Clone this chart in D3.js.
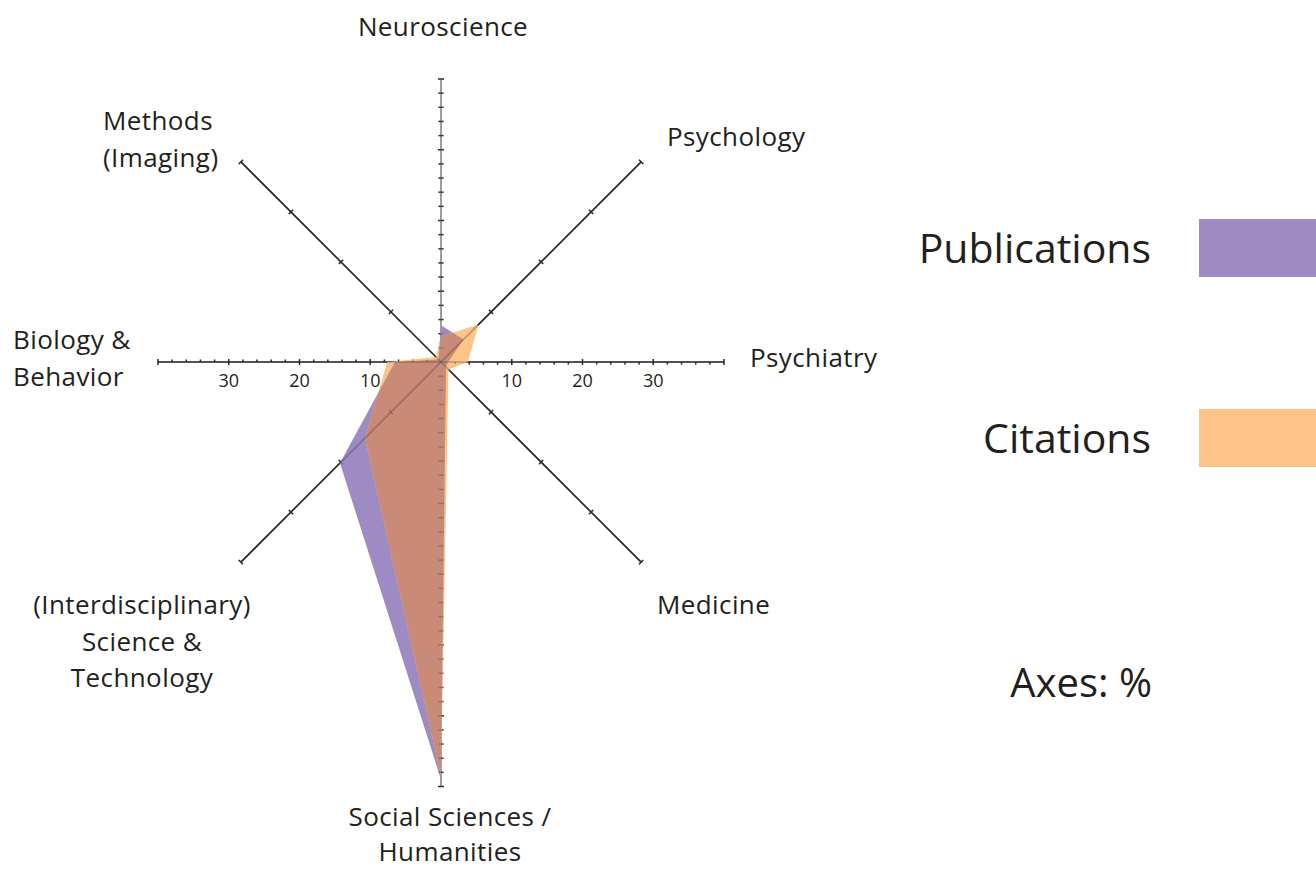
<!DOCTYPE html>
<html>
<head>
<meta charset="utf-8">
<script src="https://cdn.jsdelivr.net/npm/d3@7"></script>
<style>
  body { margin: 0; background: #fff; }
  text { font-family: "Open Sans", "Noto Sans", sans-serif; fill: #231f20; }
</style>
</head>
<body>
<div id="chart-area"></div>
<script>
const WIDTH = 1316
const HEIGHT = 870
const CENTER = {X: 441, Y: 362}

// data (percent)
const categories = ["Neuroscience", "Psychology", "Psychiatry", "Medicine",
  "Social Sciences / Humanities", "(Interdisciplinary) Science & Technology",
  "Biology & Behavior", "Methods (Imaging)"]
const publications = [5.2, 4.5, 1, 1, 59, 20.2, 6.5, 0.5]
const citations = [3.6, 7.5, 3.8, 1.5, 58.5, 15.2, 7.6, 1]
const axisMax = [40, 40, 40, 40, 60, 40, 40, 40]
const tickLabels = [10, 20, 30]
const seriesNames = ["Publications", "Citations"]

const COLORS = {pub: "#9f8bc4", cit: "#fcc488", both: "#c98b77"}

// label layout, split on lines
const labelLayout = [
  {lines: ["Neuroscience"], x: 443, y: 36, anchor: "middle", gap: 36.5},
  {lines: ["Psychology"], x: 667, y: 146, anchor: "start", gap: 36.5},
  {lines: ["Psychiatry"], x: 750, y: 367, anchor: "start", gap: 36.5},
  {lines: ["Medicine"], x: 657, y: 614, anchor: "start", gap: 36.5},
  {lines: ["Social Sciences /", "Humanities"], x: 450, y: 826, anchor: "middle", gap: 35},
  {lines: ["(Interdisciplinary)", "Science &", "Technology"], x: 142, y: 614, anchor: "middle", gap: 36.5},
  {lines: ["Biology &", "Behavior"], x: 13, y: 349, anchor: "start", gap: 36.5},
  {lines: ["Methods", "(Imaging)"], x: 103, y: 130, anchor: "start", gap: 36.5}
]

const svg = d3.select("#chart-area").append("svg")
  .attr("width", WIDTH)
  .attr("height", HEIGHT)

const g = svg.append("g")
  .attr("transform", `translate(${CENTER.X}, ${CENTER.Y})`)

const r = d3.scaleLinear().domain([0, 40]).range([0, 283])
const angle = i => -Math.PI / 2 + i * Math.PI / 4
const point = (i, v) => [r(v) * Math.cos(angle(i)), r(v) * Math.sin(angle(i))]

// axes
function drawAxes(layer, opacity) {
  categories.forEach((c, i) => {
    const a = angle(i)
    const [x2, y2] = point(i, axisMax[i])
    const vertical = Math.abs(Math.cos(a)) < 0.01
    const horizontal = Math.abs(Math.sin(a)) < 0.01
    layer.append("line")
      .attr("x1", 0).attr("y1", 0)
      .attr("x2", x2).attr("y2", y2)
      .attr("stroke", vertical ? "#a29b95" : "#2b2b2b")
      .attr("stroke-width", vertical ? 2 : 1.6)
      .attr("opacity", opacity)

    // ticks: every 2 on straight axes, every 10 on diagonals
    const step = (vertical || horizontal) ? 2 : 10
    const ticks = d3.range(step, axisMax[i] + 0.01, step)
    const nx = -Math.sin(a), ny = Math.cos(a)
    layer.selectAll(null).data(ticks).enter().append("line")
      .attr("x1", d => point(i, d)[0] - nx * (d % 10 === 0 ? 3 : (horizontal ? 0 : 2.5)))
      .attr("y1", d => point(i, d)[1] - ny * (d % 10 === 0 ? 3 : (horizontal ? 0 : 2.5)))
      .attr("x2", d => point(i, d)[0] + nx * (d % 10 === 0 ? 3 : 2.5))
      .attr("y2", d => point(i, d)[1] + ny * (d % 10 === 0 ? 3 : 2.5))
      .attr("stroke", "#2b2b2b")
      .attr("stroke-width", 1.4)
      .attr("opacity", opacity)
  })
}

drawAxes(g.append("g"), 1)

// polygons
const pubPts = publications.map((v, i) => point(i, v))
const citPts = citations.map((v, i) => point(i, v))
const line = d3.line().curve(d3.curveLinearClosed)

svg.append("defs").append("clipPath")
  .attr("id", "cit-clip")
  .append("path")
  .attr("d", line(citPts))

g.append("path").attr("d", line(pubPts)).attr("fill", COLORS.pub)
g.append("path").attr("d", line(citPts)).attr("fill", COLORS.cit)
g.append("path").attr("d", line(pubPts)).attr("fill", COLORS.both)
  .attr("clip-path", "url(#cit-clip)")

// axis lines showing faintly through the fills
drawAxes(g.append("g"), 0.3)

// tick labels on the horizontal axis
const tickData = tickLabels.flatMap(t => [t, -t])
g.selectAll(".tick-label").data(tickData).enter().append("text")
  .attr("class", "tick-label")
  .attr("x", d => d > 0 ? r(d) : -r(-d))
  .attr("y", 25)
  .attr("text-anchor", "middle")
  .attr("font-size", "18px")
  .text(d => Math.abs(d))

// category labels
labelLayout.forEach(l => {
  const t = svg.append("text")
    .attr("x", l.x).attr("y", l.y)
    .attr("text-anchor", l.anchor)
    .attr("font-size", "26px")
    .attr("letter-spacing", "0.4px")
  l.lines.forEach((s, k) => {
    t.append("tspan").attr("x", l.x).attr("dy", k === 0 ? 0 : l.gap).text(s)
  })
})

// legend
const legendY = [248, 438]
const legendColors = [COLORS.pub, COLORS.cit]
seriesNames.forEach((s, k) => {
  svg.append("text")
    .attr("x", 1151).attr("y", legendY[k] + 15)
    .attr("text-anchor", "end")
    .attr("font-size", "41px")
    .text(s)
  svg.append("rect")
    .attr("x", 1199).attr("y", legendY[k] - 29)
    .attr("width", 130).attr("height", 58)
    .attr("fill", legendColors[k])
})

svg.append("text")
  .attr("x", 1152).attr("y", 697)
  .attr("text-anchor", "end")
  .attr("font-size", "40px")
  .text("Axes: %")
</script>
</body>
</html>
